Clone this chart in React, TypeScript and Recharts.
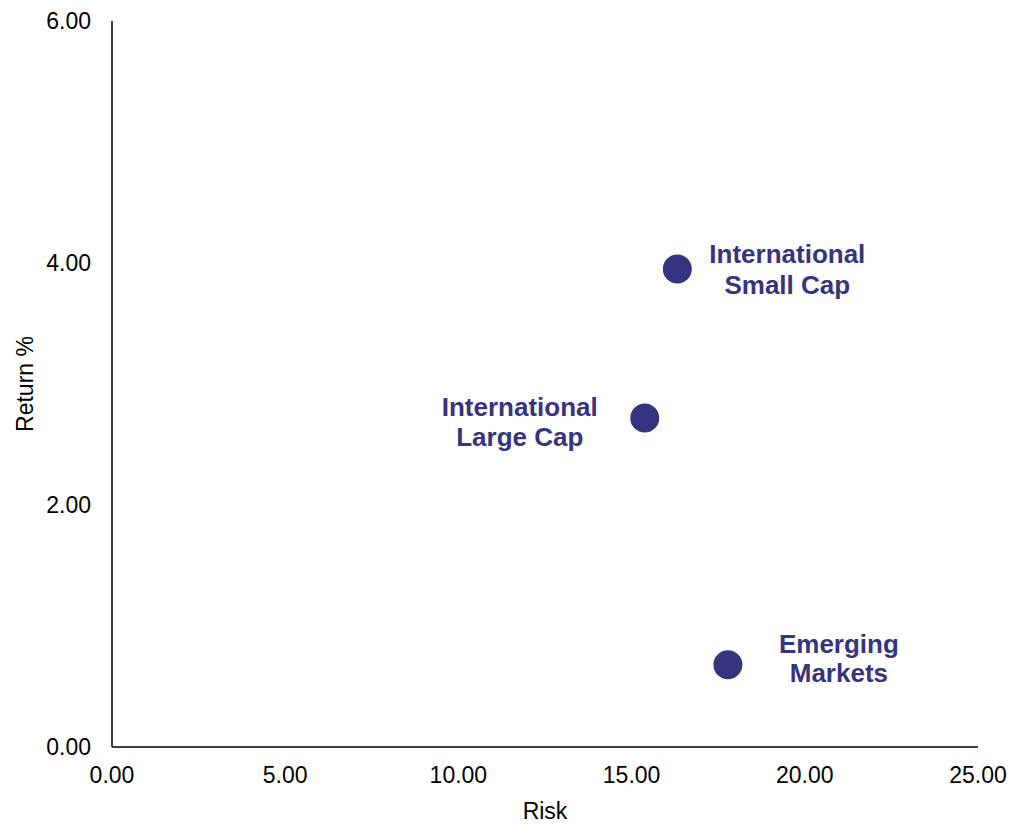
import React from 'react';
import { ScatterChart, Scatter, XAxis, YAxis, Label, LabelList } from 'recharts';

const names = ['International Small Cap', 'International Large Cap', 'Emerging Markets'];
const riskValues = [16.32, 15.38, 17.78];
const returnValues = [3.95, 2.72, 0.68];
const labelLines = [
  ['International', 'Small Cap'],
  ['International', 'Large Cap'],
  ['Emerging', 'Markets'],
];
const xTicks = [0, 5, 10, 15, 20, 25];
const yTicks = [0, 2, 4, 6];

// label placement (layout only), keyed by series name
const labelPlacement: Record<string, { dx: number; dy1: number; dy2: number }> = {
  'International Small Cap': { dx: 110, dy1: -6, dy2: 25 },
  'International Large Cap': { dx: -125, dy1: -2, dy2: 28 },
  'Emerging Markets': { dx: 111, dy1: -12, dy2: 17 },
};

const data = names.map((n, i) => ({ name: n, risk: riskValues[i], ret: returnValues[i], lines: labelLines[i] }));

const FONT = '"Liberation Sans", Arial, sans-serif';
const COLOR = '#36347F';

const Dot = (props: any) => <circle cx={props.cx} cy={props.cy} r={14.5} fill={COLOR} />;

const PointLabel = (props: any) => {
  const { x, y, width, height, index } = props;
  const d = data[index];
  if (!d) return null;
  const cx = x + (width || 0) / 2;
  const cy = y + (height || 0) / 2;
  const p = labelPlacement[d.name];
  return (
    <g>
      <text x={cx + p.dx} y={cy + p.dy1} textAnchor="middle" fill={COLOR} fontFamily={FONT} fontWeight="bold" fontSize={26}>
        {d.lines[0]}
      </text>
      <text x={cx + p.dx} y={cy + p.dy2} textAnchor="middle" fill={COLOR} fontFamily={FONT} fontWeight="bold" fontSize={26}>
        {d.lines[1]}
      </text>
    </g>
  );
};

export default function App() {
  return (
    <div style={{ position: 'absolute', left: 0, top: 0, width: 1009, height: 824, background: '#fff' }}>
      <ScatterChart width={1009} height={824} margin={{ top: 21, right: 31, bottom: 0, left: 0 }}>
        <XAxis
          type="number"
          dataKey="risk"
          domain={[0, 25]}
          ticks={xTicks}
          tickFormatter={(v: number) => v.toFixed(2)}
          height={77}
          tickLine={false}
          tickSize={0}
          tickMargin={20}
          axisLine={{ stroke: '#000', strokeWidth: 1.5 }}
          tick={{ fill: '#000', fontSize: 23, fontFamily: FONT }}
          interval={0}
        >
          <Label value="Risk" position="insideBottom" offset={5} style={{ fill: '#000', fontSize: 23, fontFamily: FONT }} />
        </XAxis>
        <YAxis
          type="number"
          dataKey="ret"
          domain={[0, 6]}
          ticks={yTicks}
          tickFormatter={(v: number) => v.toFixed(2)}
          width={112}
          tickLine={false}
          tickSize={0}
          tickMargin={21}
          axisLine={{ stroke: '#000', strokeWidth: 1.5 }}
          tick={{ fill: '#000', fontSize: 23, fontFamily: FONT }}
          interval={0}
        >
          <Label
            value="Return %"
            angle={-90}
            position="insideLeft"
            offset={25}
            style={{ fill: '#000', fontSize: 23, fontFamily: FONT, textAnchor: 'middle' }}
          />
        </YAxis>
        <Scatter data={data} fill={COLOR} shape={Dot} isAnimationActive={false}>
          <LabelList dataKey="name" content={PointLabel} />
        </Scatter>
      </ScatterChart>
    </div>
  );
}
